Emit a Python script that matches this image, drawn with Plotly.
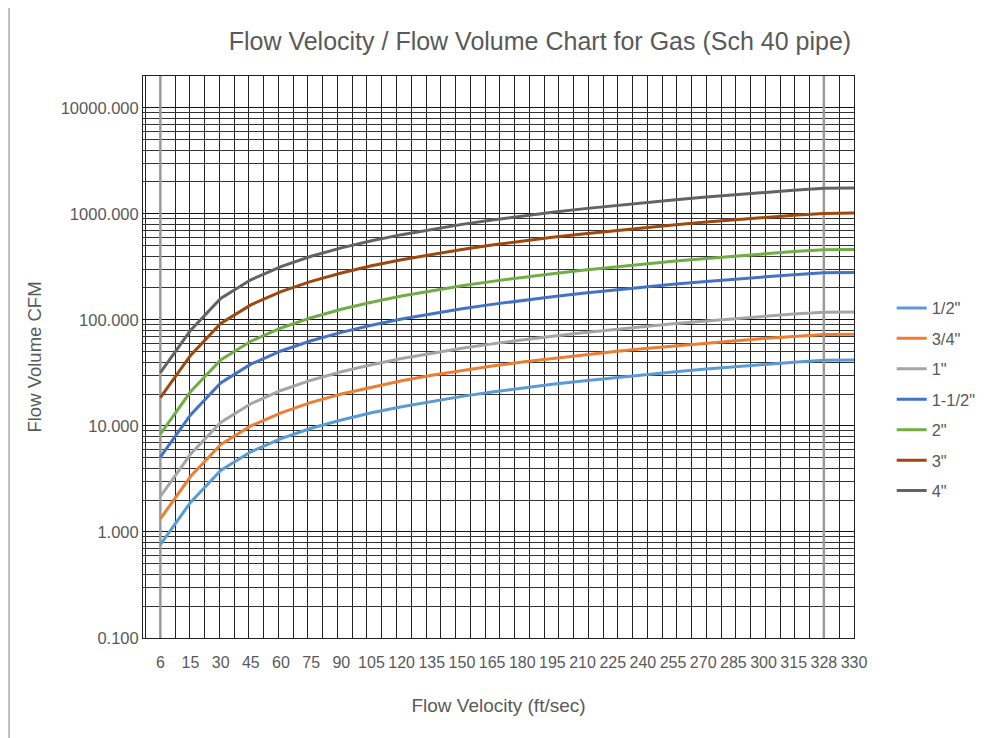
import plotly.graph_objects as go

categories = ["6", "15", "30", "45", "60", "75", "90", "105", "120", "135", "150", "165",
              "180", "195", "210", "225", "240", "255", "270", "285", "300", "315", "328", "330"]

series_names = ['1/2"', '3/4"', '1"', '1-1/2"', '2"', '3"', '4"']

half_in = [0.76, 1.90, 3.80, 5.70, 7.60, 9.50, 11.39, 13.29, 15.19, 17.09, 18.99, 20.89,
           22.79, 24.69, 26.59, 28.49, 30.38, 32.28, 34.18, 36.08, 37.98, 39.88, 41.53, 41.78]
three_quarter_in = [1.33, 3.33, 6.67, 10.0, 13.3, 16.7, 20.0, 23.3, 26.7, 30.0, 33.3, 36.7,
                    40.0, 43.3, 46.7, 50.0, 53.3, 56.7, 60.0, 63.3, 66.7, 70.0, 72.9, 73.3]
one_in = [2.16, 5.40, 10.8, 16.2, 21.6, 27.0, 32.4, 37.8, 43.2, 48.6, 54.0, 59.4,
          64.8, 70.2, 75.6, 81.0, 86.4, 91.8, 97.2, 102.6, 108.0, 113.4, 118.1, 118.8]
one_half_in = [5.09, 12.7, 25.4, 38.2, 50.9, 63.6, 76.3, 89.1, 101.8, 114.5, 127.2, 140.0,
               152.7, 165.4, 178.1, 190.9, 203.6, 216.3, 229.0, 241.8, 254.5, 267.2, 278.2, 279.9]
two_in = [8.39, 21.0, 41.9, 62.9, 83.9, 104.9, 125.8, 146.8, 167.8, 188.7, 209.7, 230.7,
          251.6, 272.6, 293.6, 314.6, 335.5, 356.5, 377.5, 398.4, 419.4, 440.4, 458.5, 461.3]
three_in = [18.5, 46.2, 92.4, 138.6, 184.8, 231.0, 277.2, 323.4, 369.6, 415.8, 462.0, 508.2,
            554.4, 600.6, 646.8, 693.0, 739.2, 785.4, 831.6, 877.8, 924.0, 970.2, 1010, 1016]
four_in = [31.8, 79.6, 159.1, 238.7, 318.2, 397.8, 477.4, 556.9, 636.5, 716.0, 795.6, 875.2,
           954.7, 1034, 1114, 1193, 1273, 1353, 1432, 1512, 1591, 1671, 1740, 1750]

series_values = [half_in, three_quarter_in, one_in, one_half_in, two_in, three_in, four_in]
colors = ["#5B9BD5", "#ED7D31", "#A5A5A5", "#4472C4", "#70AD47", "#9E480E", "#636363"]

y_range_log = [-1, 4.3]
highlight_cats = ["6", "328"]

x_idx = list(range(len(categories)))
n = len(categories) - 1

fig = go.Figure()

# lighter highlighted vertical gridlines at categories "6" and "328" (drawn below series)
for cat in highlight_cats:
    xi = categories.index(cat)
    fig.add_trace(go.Scatter(x=[xi, xi], y=[10 ** y_range_log[0], 10 ** y_range_log[1]],
                             mode="lines", line=dict(color="#9A9A9A", width=2.5),
                             showlegend=False, hoverinfo="skip", cliponaxis=True))

for name, vals, col in zip(series_names, series_values, colors):
    fig.add_trace(go.Scatter(x=x_idx, y=vals, mode="lines", name=name, legendgroup=name,
                             line=dict(color=col, width=3)))

txt = "#595959"
fig.update_layout(
    width=985, height=730,
    margin=dict(l=135, r=136, t=68, b=100),
    paper_bgcolor="white", plot_bgcolor="white",
    font=dict(family="Liberation Sans, Arial, sans-serif", color=txt, size=16),
    title=dict(text="Flow Velocity / Flow Volume Chart for Gas (Sch 40 pipe)",
               x=0.54, xanchor="center", y=0.955, yanchor="middle",
               font=dict(size=25, color=txt)),
    legend=dict(x=1.053, xanchor="left", y=0.618, yanchor="top", tracegroupgap=6,
                font=dict(size=16.5, color=txt), bgcolor="rgba(0,0,0,0)"),
    showlegend=True,
)

fig.update_xaxes(
    type="linear", range=[-0.575, n],
    tickmode="array", tickvals=x_idx, ticktext=categories,
    showgrid=False, zeroline=False, ticks="", ticklabelstandoff=10,
    tickfont=dict(size=16, color=txt),
    showline=True, linecolor="#222222", linewidth=1, mirror=True,
    minor=dict(showgrid=True, tick0=0, dtick=n / 47, gridcolor="#222222", gridwidth=1),
    title=dict(text="Flow Velocity (ft/sec)", standoff=28, font=dict(size=19, color=txt)),
)
fig.update_yaxes(
    type="log", range=y_range_log,
    tickmode="linear", tick0=0, dtick=1, tickformat=".3f",
    showgrid=True, gridcolor="#111111", gridwidth=1, zeroline=False, ticks="",
    tickfont=dict(size=16.5, color=txt),
    showline=True, linecolor="#222222", linewidth=1, mirror=True,
    minor=dict(showgrid=True, dtick="D1", gridcolor="#333333", gridwidth=1),
    title=dict(text="Flow Volume CFM", standoff=14, font=dict(size=18.5, color=txt)),
)

# outer chart frame (left edge visible)
fig.add_shape(type="rect", xref="paper", yref="paper",
              x0=-0.1884, x1=1.25, y0=-0.2, y1=1.2,
              line=dict(color="#7F7F7F", width=1), layer="below")

fig.write_html("out.html")
